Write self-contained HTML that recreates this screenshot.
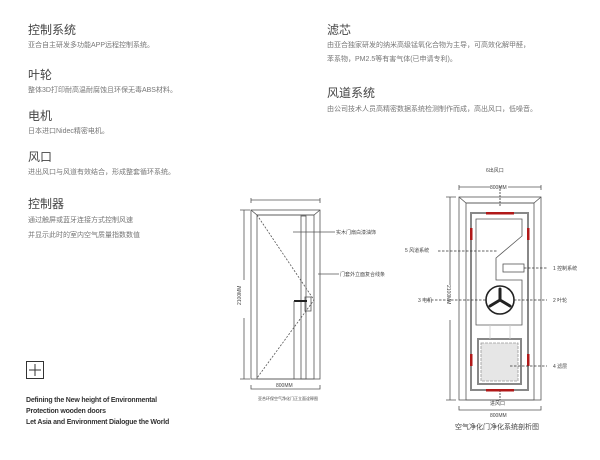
<!DOCTYPE html>
<html><head><meta charset="utf-8"><style>
body{margin:0;width:600px;height:460px;background:#fff;position:relative;overflow:hidden;font-family:"Liberation Sans","Noto Sans CJK SC",sans-serif}
.t{position:absolute;color:#444;font-size:12px;line-height:14px;white-space:nowrap}
.s{position:absolute;color:#777;font-size:7px;line-height:9px;white-space:nowrap}
.e{position:absolute;color:#333;font-size:7px;line-height:9px;white-space:nowrap;font-weight:bold;letter-spacing:-0.2px}
svg{position:absolute;left:0;top:0}
svg text{font-family:"Liberation Sans","Noto Sans CJK SC",sans-serif;fill:#444}
</style></head><body>
<div class="t" style="left:28px;top:23px">控制系统</div>
<div class="s" style="left:28px;top:41px">亚合自主研发多功能APP远程控制系统。</div>
<div class="t" style="left:28px;top:68px">叶轮</div>
<div class="s" style="left:28px;top:86px">整体3D打印耐高温耐腐蚀且环保无毒ABS材料。</div>
<div class="t" style="left:28px;top:109px">电机</div>
<div class="s" style="left:28px;top:127px">日本进口Nidec精密电机。</div>
<div class="t" style="left:28px;top:150px">风口</div>
<div class="s" style="left:28px;top:168px">进出风口与风道有效结合，形成整套循环系统。</div>
<div class="t" style="left:28px;top:197px">控制器</div>
<div class="s" style="left:28px;top:216px">通过触屏或蓝牙连接方式控制风速</div>
<div class="s" style="left:28px;top:231px">并显示此时的室内空气质量指数数值</div>
<div class="t" style="left:327px;top:23px">滤芯</div>
<div class="s" style="left:327px;top:41px">由亚合独家研发的纳米高级锰氧化合物为主导，可高效化解甲醛，</div>
<div class="s" style="left:327px;top:55px">苯系物，PM2.5等有害气体(已申请专利)。</div>
<div class="t" style="left:327px;top:86px">风道系统</div>
<div class="s" style="left:327px;top:105px">由公司技术人员高精密数据系统检测制作而成，高出风口，低噪音。</div>
<div class="e" style="left:26px;top:396px">Defining the New height of Environmental</div>
<div class="e" style="left:26px;top:407px">Protection wooden doors</div>
<div class="e" style="left:26px;top:418px">Let Asia and Environment Dialogue the World</div>
<svg width="600" height="460" viewBox="0 0 600 460">
<rect x="26.5" y="361.5" width="17" height="17" fill="none" stroke="#333"/>
<path d="M35 364V376M29 370H41" stroke="#333"/>
<!-- left door -->
<g stroke="#555" fill="none" stroke-width="0.8">
<path d="M251 200H320M251 198V203M320 198V203"/>
<path d="M240 210H250M240 379H250M244 210V280M244 318V379"/>
<rect x="251" y="210" width="69" height="169"/>
<path d="M251 210L257 215H314L320 210"/>
<rect x="257" y="215" width="57" height="164"/>
<rect x="301" y="216" width="5" height="163"/>
<path d="M257 215L314 300L257 378" stroke-dasharray="2,1.5"/>
<rect x="305" y="297" width="6" height="14"/>
<path d="M294 301H307" stroke="#222" stroke-width="2"/>
<path d="M294 301V379"/>
<path d="M251 385V389H320V385"/>
<path d="M293 232H335M318 274H339"/>
</g>
<text x="336" y="234" font-size="5">实木门扇白漆油饰</text>
<text x="340" y="276" font-size="5">门套外立面复合线条</text>
<text x="276" y="387" font-size="5">800MM</text>
<text x="258" y="400" font-size="4">亚合环保空气净化门正立面诠释图</text>
<text x="0" y="0" font-size="5" transform="translate(241,305) rotate(-90)">2100MM</text>
<!-- right door -->
<g stroke="#555" fill="none" stroke-width="0.8">
<path d="M459 185V190M459 187H490M508 187H541M541 185V190"/>
<path d="M446 197H456M446 400H456M450 197V285M450 320V400"/>
<rect x="459" y="197" width="82" height="203"/>
<path d="M459 197L466 203H534L541 197"/>
<rect x="466" y="203" width="68" height="197"/>
<rect x="471" y="213" width="57" height="177" stroke-width="2" stroke="#888"/>
<path d="M476 219H522V236L496 258V280H522V325H476Z"/>
<rect x="503" y="264" width="21" height="8"/>
<rect x="478" y="339" width="43" height="45" stroke-width="2" stroke="#888"/>
<rect x="481" y="343" width="37" height="38" fill="#e6e6e6" stroke="#999" stroke-dasharray="3,1"/>
<path d="M490 325V339M510 325V339" stroke="#ccc"/>
<path d="M500 186V206M500 390V400" stroke="#333" stroke-dasharray="2,1"/>
<path d="M459 406V410H541V406"/>
</g>
<g fill="#b01818">
<rect x="486" y="212" width="28" height="2.5"/><rect x="486" y="389" width="28" height="2.5"/>
<rect x="470" y="228" width="2.5" height="12"/><rect x="527" y="228" width="2.5" height="12"/>
<rect x="470" y="354" width="2.5" height="12"/><rect x="527" y="354" width="2.5" height="12"/>
</g>
<circle cx="500" cy="300" r="14" fill="#fff" stroke="#222" stroke-width="1.6"/>
<g stroke="#222" stroke-width="3" stroke-linecap="round"><path d="M500 300V289M500 300L490 306M500 300L510 306"/></g>
<g stroke="#333" fill="none" stroke-width="0.7" stroke-dasharray="2.5,1.5">
<path d="M438 251H497M427 300H486M514 300H547M524 268H548M510 366H547"/>
</g>
<text x="486" y="172" font-size="5">6出风口</text>
<text x="490" y="189" font-size="5">800MM</text>
<text x="405" y="252" font-size="5">5 风道系统</text>
<text x="418" y="302" font-size="5">3 电机</text>
<text x="553" y="270" font-size="5">1 控制系统</text>
<text x="553" y="302" font-size="5">2 叶轮</text>
<text x="553" y="368" font-size="5">4 滤层</text>
<text x="490" y="405" font-size="5">进风口</text>
<text x="490" y="417" font-size="5">800MM</text>
<text x="455" y="429" font-size="7">空气净化门净化系统剖析图</text>
<text x="0" y="0" font-size="5" transform="translate(447,285) rotate(90)">2100MM</text>
</svg>
</body></html>
